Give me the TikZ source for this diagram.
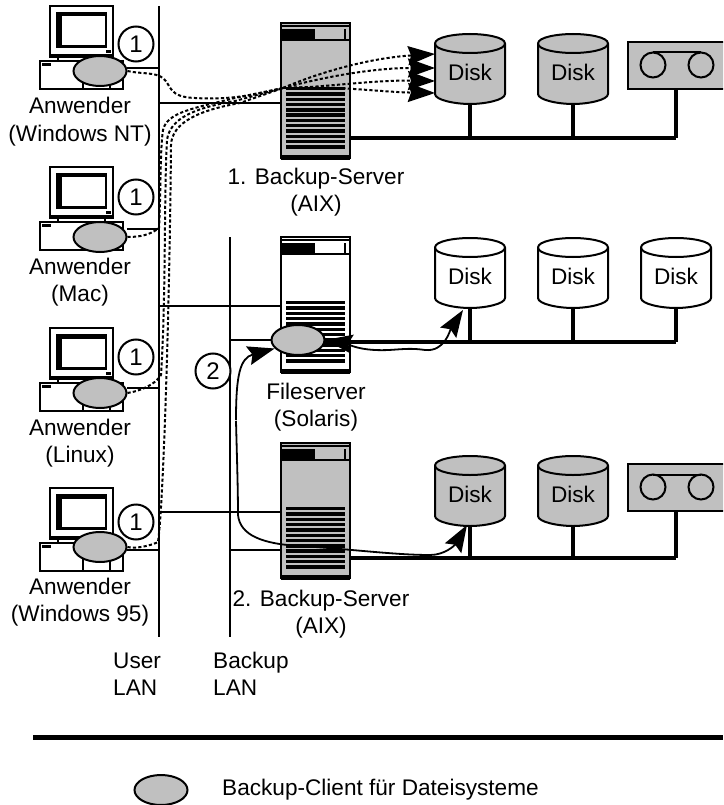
\documentclass[tikz,border=0pt]{standalone}
\usepackage{fontspec}
\setmainfont{Liberation Sans}
\usetikzlibrary{arrows.meta,shapes.geometric}
\definecolor{grayfill}{HTML}{C0C0C0}
\tikzset{
  lan/.style={line width=2.2pt},
  bus/.style={line width=3.4pt},
  stub/.style={line width=2pt},
  dots/.style={line width=2pt,dash pattern=on 3.2pt off 2.2pt},
  flow/.style={line width=1.8pt,{Stealth[length=27pt,width=19pt,inset=4pt]}-{Stealth[length=27pt,width=19pt,inset=4pt]}},
  flowend/.style={line width=1.8pt,-{Stealth[length=27pt,width=19pt,inset=4pt]}},
  txt/.style={font=\fontsize{22.6}{27.5}\selectfont,inner sep=0pt,align=center},
  num/.style={circle,draw,line width=2pt,fill=white,minimum size=35pt,inner sep=0pt,font=\fontsize{24}{27}\selectfont},
  client/.style={ellipse,draw,line width=2pt,fill=grayfill,minimum width=53pt,minimum height=30pt,inner sep=0pt},
  pics/computer/.style={code={
    \draw[line width=2pt,fill=white] (10,0) rectangle (73,51);
    \draw[line width=1.2pt] (10,49) -- (73,49);
    \fill (16,6) rectangle (67,42);
    \fill[white] (21.5,10.5) rectangle (65,39);
    \fill (66,44) rectangle (71,47);
    \draw[line width=1.5pt] (18,51) -- (18,55) (65,51) -- (65,55);
    \draw[line width=2pt,fill=white] (0,55) rectangle (83,83);
    \fill (2,57) rectangle (11,60);
    \draw[line width=1.5pt] (43,70) rectangle (70,83);
  }},
  pics/server/.style={code={
    \draw[line width=2.4pt,fill=#1] (0,0) rectangle (69,135);
    \draw[line width=1.2pt] (0,3) -- (69,3);
    \fill (0,6) rectangle (34,17);
    \draw[line width=1.5pt] (0,17) -- (69,17);
    \draw[line width=1.2pt] (64,6) -- (64,17);
    \fill (0,132) rectangle (69,137);
    \foreach \i in {0,...,11} {\fill (5,64+\i*5.3) rectangle (64,67.4+\i*5.3);}
  }},
  pics/disk/.style={code={
    \draw[line width=2pt,fill=#1] (-35,9.5) -- (-35,60) .. controls (-35,66) and (-15,70) .. (0,70)
      .. controls (15,70) and (35,66) .. (35,60) -- (35,9.5)
      .. controls (35,3) and (15,0) .. (0,0) .. controls (-15,0) and (-35,3) .. (-35,9.5) -- cycle;
    \draw[line width=2pt] (-35,9.5) .. controls (-35,16) and (-15,19) .. (0,19) .. controls (15,19) and (35,16) .. (35,9.5);
    \node[txt] at (0,38) {Disk};
    \coordinate (-b) at (0,70);
  }},
  pics/tape/.style={code={
    \draw[line width=2pt,fill=grayfill] (0,0) rectangle (110,47);
    \draw[line width=2pt] (25,23) circle (12.5) (73,23) circle (12.5);
    \draw[line width=2pt] (25,10.5) -- (73,10.5);
    \coordinate (-b) at (48,47);
  }}
}
\begin{document}
\begin{tikzpicture}[x=1pt,y=-1pt]
\useasboundingbox (0,0) rectangle (723,805);
\clip (0,0) rectangle (723,805);

% LANs
\coordinate (ultop) at (159,6); \coordinate (ulbot) at (159,637);
\coordinate (bltop) at (230,237); \coordinate (blbot) at (230,637);
\draw[lan] (ultop) -- (ulbot);
\draw[lan] (bltop) -- (blbot);

% Computers
\pic at (40,6) {computer};
\pic at (40,167) {computer};
\pic at (40,328) {computer};
\pic at (40,488) {computer};

% Servers
\pic (s1) at (281,23) {server=grayfill};
\pic (s2) at (281,237) {server=white};
\pic (s3) at (281,443) {server=grayfill};

% stubs
\draw[stub] (127,68) -- (159,68);
\draw[stub] (127,229) -- (159,229);
\draw[stub] (127,388) -- (159,388);
\draw[stub] (127,550) -- (159,550);
\draw[stub] (159,103) -- (281,103);
\draw[stub] (159,306) -- (281,306);
\draw[stub] (159,512) -- (281,512);
\draw[stub] (230,340) -- (281,340);
\draw[stub] (230,550) -- (281,550);

% Storage row 1
\draw[bus] (350,138) -- (676,138);
\pic (a1) at (470,34) {disk=grayfill};
\pic (a2) at (573,34) {disk=grayfill};
\pic (a3) at (628,42) {tape};
\draw[bus] (a1-b) -- (470,138);
\draw[bus] (a2-b) -- (573,138);
\draw[bus] (a3-b) -- (676,138);

% Storage row 2
\draw[bus] (320,342) -- (676,342);
\pic (b1) at (470,238) {disk=white};
\pic (b2) at (573,238) {disk=white};
\pic (b3) at (676,238) {disk=white};
\draw[bus] (b1-b) -- (470,342);
\draw[bus] (b2-b) -- (573,342);
\draw[bus] (b3-b) -- (676,342);

% Storage row 3
\draw[bus] (350,558) -- (676,558);
\pic (c1) at (470,456) {disk=grayfill};
\pic (c2) at (573,456) {disk=grayfill};
\pic (c3) at (628,464) {tape};
\draw[bus] (c1-b) -- (470,558);
\draw[bus] (c2-b) -- (573,558);
\draw[bus] (c3-b) -- (676,558);

% Clients
\node[client] (k1) at (100,71) {};
\node[client] (k2) at (100,237) {};
\node[client] (k3) at (100,393) {};
\node[client] (k4) at (100,547) {};
\node[client] (fs) at (298,340) {};
\node[client] (legend) at (161,790) {};

% Numbers
\node[num] (n1) at (136,44) {1};
\node[num] (n2) at (136,197) {1};
\node[num] (n3) at (136,357) {1};
\node[num] (n4) at (136,522) {1};
\node[num] (n5) at (213,371) {2};

% Fan targets
\coordinate (t1) at (435,54);
\coordinate (t2) at (435,68);
\coordinate (t3) at (435,81);
\coordinate (t4) at (435,93);
\coordinate (hub) at (283,88);
\tikzset{fan/.style={dots,-{Stealth[length=27pt,width=19pt,inset=3pt]}}}

% Dotted backup paths
\draw[dots] (k1.east) .. controls (140,74) and (155,72) .. (163,78)
   .. controls (172,86) and (168,97) .. (195,98) .. controls (230,100) and (255,95) .. (hub);
\draw[dots] (k2.east) .. controls (140,237) and (150,235) .. (159,228)
   .. controls (161,190) and (160,150) .. (163,130) .. controls (167,112) and (195,108) .. (235,98) -- (hub);
\draw[dots] (k3.east) .. controls (140,391) and (155,385) .. (161,375)
   .. controls (166,300) and (164,190) .. (167,140) .. controls (170,118) and (195,108) .. (235,101) -- (hub);
\draw[dots] (k4.east) .. controls (135,549) and (150,546) .. (158,542)
   .. controls (164,500) and (170,280) .. (171,145) .. controls (172,122) and (200,110) .. (240,103) -- (hub);
\draw[fan] (hub) .. controls (320,72) and (370,58) .. (t1);
\draw[fan] (hub) .. controls (320,78) and (370,68) .. (t2);
\draw[fan] (hub) .. controls (320,88) and (370,80) .. (t3);
\draw[fan] (hub) .. controls (330,85) and (380,92) .. (t4);

% Solid data flows
\coordinate (ta) at ([xshift=-7pt,yshift=-2pt]b1-b);
\coordinate (tb) at ([xshift=-3pt,yshift=1pt]c1-b);
\draw[flow] (fs.east) .. controls (345,343) and (355,349) .. (375,350)
   .. controls (395,351) and (405,347) .. (425,350) .. controls (445,352) and (450,330) .. (ta);
\draw[flowend] (236,420) .. controls (236,375) and (240,358) .. (fs.200);
\draw[line width=1.8pt] (236,421) .. controls (237,460) and (238,490) .. (238,515)
   .. controls (240,535) and (262,544) .. (300,546) .. controls (350,549) and (395,555) .. (430,555);
\draw[flowend] (430,555) .. controls (445,555) and (455,545) .. (tb);

% Labels
\node[txt] (l1) at (80,121.5) {Anwender\\(Windows NT)};
\node[txt] (l2) at (80,282) {Anwender\\(Mac)};
\node[txt] (l3) at (80,443) {Anwender\\(Linux)};
\node[txt] (l4) at (80,602) {Anwender\\(Windows 95)};
\node[txt] (l5) at (316,192) {1. Backup-Server\\(AIX)};
\node[txt] (l6) at (316,407) {Fileserver\\(Solaris)};
\node[txt] (l7) at (321,614) {2. Backup-Server\\(AIX)};
\node[txt,align=left,anchor=west] (l8) at (113,674) {User\\LAN};
\node[txt,align=left,anchor=west] (l9) at (213,674) {Backup\\LAN};
\node[txt,anchor=west] (l10) at (222,790) {Backup-Client für Dateisysteme};

% Separator
\coordinate (sepa) at (33,737); \coordinate (sepb) at (723,737);
\draw[line width=5pt] (sepa) -- (sepb);
\end{tikzpicture}
\end{document}
